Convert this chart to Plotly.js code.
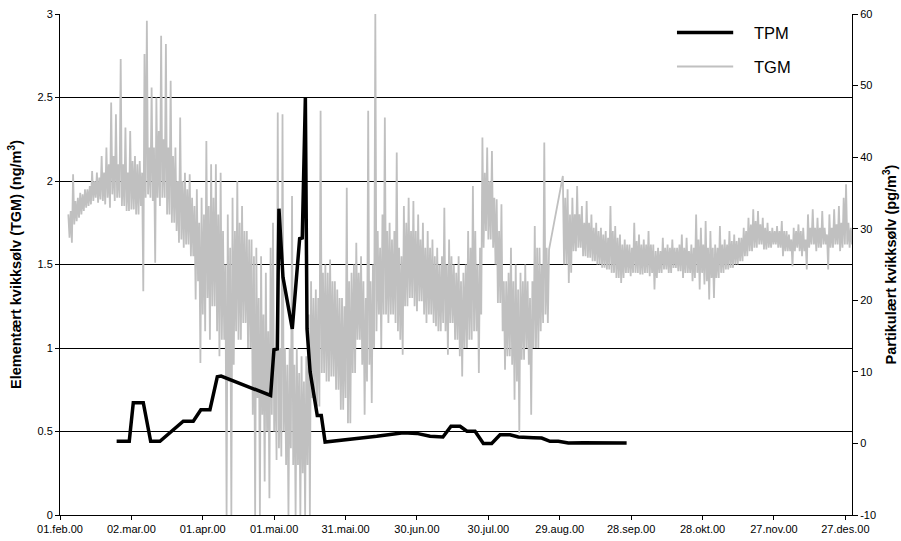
<!DOCTYPE html>
<html>
<head>
<meta charset="utf-8">
<script src="https://cdn.plot.ly/plotly-3.0.1.min.js"></script>
<style>html,body{margin:0;padding:0;background:#fff;}#chart{width:901px;height:541px;}</style>
</head>
<body>
<div id="chart"></div>
<script>
// ---- Data (days counted from 01.feb.00) ----
const tickDays = [0, 30, 60, 90, 120, 150, 180, 210, 240, 270, 300, 330];
const tickLabels = ["01.feb.00", "02.mar.00", "01.apr.00", "01.mai.00", "31.mai.00", "30.jun.00",
                    "30.jul.00", "29.aug.00", "28.sep.00", "28.okt.00", "27.nov.00", "27.des.00"];

// TPM (pg/m3, right axis)
const tpmDays = [23.8, 29.1, 30.8, 35.0, 38.1, 42.0, 51.8, 56.0, 59.2, 63.0, 66.1, 67.7, 88.5, 89.9, 91.3,
                 92.0, 93.7, 97.6, 100.7, 101.8, 103.1, 103.8, 105.1, 106.3, 108.1, 109.8, 111.4, 133.1,
                 144.3, 149.9, 155.5, 160.9, 164.3, 168.1, 171.0, 174.4, 177.9, 181.4, 184.9, 189.1,
                 192.6, 198.9, 202.4, 205.9, 209.4, 213.6, 219.9, 238.1];
const tpmValues = [0.3, 0.3, 5.7, 5.7, 0.3, 0.3, 3.1, 3.1, 4.7, 4.7, 9.3, 9.4, 6.7, 13.1, 13.2,
                   32.8, 23.2, 16.0, 28.6, 28.7, 48.3, 16.0, 10.0, 7.5, 3.9, 3.9, 0.2, 1.0,
                   1.5, 1.4, 1.0, 0.9, 2.4, 2.4, 1.7, 1.7, 0.0, 0.0, 1.2, 1.2,
                   0.9, 0.8, 0.75, 0.3, 0.3, 0.05, 0.1, 0.05];

// TGM (ng/m3, left axis), readings every half day.
// First block starts at day 3.5 (one row = 5 days)
const tgmStep = 0.5;
const tgmStartA = 3.5;
const tgmA = [
  1.80,1.66, 1.82,1.63, 2.04,1.74, 1.88,1.76, 1.90,1.78,
  1.93,1.80, 1.92,1.82, 1.95,1.84, 1.95,1.85, 1.97,1.86,
  2.06,1.88, 2.00,1.90, 2.05,1.87, 2.02,1.89, 2.15,1.88,
  2.05,1.86, 2.20,1.90, 2.10,1.84, 2.47,1.92, 2.15,1.88,
  2.40,1.90, 2.10,1.90, 2.73,1.85, 2.10,1.85, 2.32,1.82,
  2.05,1.82, 2.30,1.83, 2.12,1.83, 2.15,1.80, 2.10,1.80,
  2.12,1.85, 2.05,1.34, 2.76,1.90, 2.96,1.92, 2.20,1.90,
  2.56,1.88, 2.20,1.51, 2.50,1.90, 2.30,1.85, 2.87,1.90,
  2.25,1.90, 2.82,1.80, 2.20,1.80, 2.60,1.75, 2.15,1.75,
  2.20,1.70, 2.00,1.63, 2.38,1.65, 2.00,1.60, 2.05,1.62,
  1.95,1.62, 2.04,1.55, 1.90,1.55, 1.85,1.29, 1.95,1.40,
  1.75,0.91, 1.90,1.20, 1.80,1.10, 2.24,1.30, 1.85,1.05,
  2.10,1.25, 1.90,1.25, 2.10,1.10, 1.80,0.95, 2.05,1.05,
  1.70,1.05, 1.50,0.00, 1.80,0.80, 1.60,0.00, 1.90,0.90,
  1.70,1.10, 2.00,1.05, 1.75,1.05, 1.85,1.15, 1.70,1.15,
  1.70,1.00, 1.65,1.00, 1.65,0.60, 1.55,0.00, 1.60,0.70,
  1.30,0.00, 1.55,0.60, 1.20,0.20, 1.45,0.50, 1.10,0.10,
  1.60,0.60, 1.75,0.50, 1.00,0.33, 2.41,0.40, 1.00,0.35,
  2.40,0.50, 1.00,0.30, 0.90,0.00, 1.00,0.40, 1.91,0.30,
  0.90,0.00, 1.00,0.30, 0.85,0.00, 0.95,0.25, 0.80,0.00,
  0.95,0.30, 1.20,0.00, 1.40,0.70, 1.30,0.70, 1.35,0.65,
  1.30,0.65, 2.42,0.85, 1.45,0.85, 1.50,0.80, 1.45,0.80,
  1.53,0.83, 1.40,0.83, 1.40,0.75, 1.35,0.75, 1.30,0.63,
  1.30,0.63, 1.25,0.70, 1.96,0.55, 1.40,0.55, 1.45,0.85,
  1.50,0.85, 1.63,1.05, 1.45,1.05, 1.55,0.90, 1.40,0.60,
  1.30,0.80, 2.42,0.90, 1.40,0.67, 1.50,1.00, 3.00,1.10,
  1.70,1.20, 1.60,1.00, 1.80,1.20, 2.38,1.20, 1.70,1.15,
  1.75,1.20, 1.65,1.20, 1.70,1.15, 2.17,1.10, 1.60,1.05,
  1.55,0.96, 1.85,1.25, 1.75,1.25, 1.90,1.30, 1.70,1.30,
  1.88,1.25, 1.70,1.22, 1.80,1.28, 1.65,1.28, 1.75,1.20,
  1.60,1.15, 1.70,1.20, 1.60,1.20, 1.65,1.15, 1.55,1.13,
  1.60,1.10, 1.50,1.10, 1.55,1.15, 1.84,1.10, 1.50,0.96,
  1.65,1.15, 1.55,1.15, 1.50,1.05, 1.45,1.05, 1.55,0.95,
  1.40,0.83, 1.45,1.00, 1.50,1.00, 1.70,1.05, 1.60,1.05,
  1.97,1.10, 1.70,1.10, 1.50,0.85, 1.60,1.20, 2.26,1.60,
  2.05,1.70, 2.20,1.65, 2.00,1.65, 2.18,1.60, 1.90,1.50,
  1.89,1.27, 1.70,1.27, 1.86,1.10, 1.40,0.87, 1.40,0.95,
  1.45,0.95, 1.60,0.90, 1.40,0.69, 1.50,0.80, 1.35,0.49,
  1.45,0.93, 1.40,0.93, 1.50,1.00, 1.40,0.90, 1.30,0.60,
  1.40,1.00, 1.73,1.00, 1.60,1.00, 1.60,1.10, 1.50,1.15,
  2.23,1.20, 1.60,1.15, 1.59
];
// Second block after the data gap, starts at day 211.3
const tgmStartB = 211.3;
const tgmB = [
  2.03,1.50, 1.90,1.50, 1.95,1.39, 1.80,1.45, 1.90,1.58,
  1.80,1.58, 1.97,1.60, 1.80,1.60, 1.85,1.55, 1.75,1.55,
  1.88,1.54, 1.75,1.54, 1.80,1.52, 1.72,1.52, 1.75,1.50,
  1.70,1.50, 1.72,1.48, 1.68,1.48, 1.70,1.47, 1.66,1.47,
  1.85,1.45, 1.70,1.45, 1.73,1.42, 1.66,1.42, 1.68,1.39,
  1.62,1.42, 1.65,1.45, 1.62,1.45, 1.62,1.43, 1.60,1.45,
  1.75,1.45, 1.64,1.45, 1.68,1.44, 1.62,1.44, 1.65,1.45,
  1.62,1.45, 1.70,1.43, 1.62,1.45, 1.62,1.35, 1.58,1.42,
  1.60,1.45, 1.58,1.45, 1.66,1.47, 1.60,1.47, 1.62,1.45,
  1.60,1.45, 1.65,1.48, 1.60,1.48, 1.60,1.46, 1.62,1.46,
  1.68,1.42, 1.60,1.45, 1.66,1.45, 1.58,1.45, 1.62,1.40,
  1.60,1.42, 1.80,1.45, 1.65,1.35, 1.72,1.45, 1.62,1.38,
  1.76,1.40, 1.60,1.29, 1.70,1.42, 1.60,1.30, 1.62,1.42,
  1.60,1.42, 1.73,1.45, 1.62,1.45, 1.65,1.47, 1.62,1.47,
  1.70,1.48, 1.64,1.48, 1.68,1.50, 1.64,1.50, 1.66,1.52,
  1.66,1.52, 1.72,1.55, 1.70,1.55, 1.78,1.58, 1.74,1.58,
  1.83,1.60, 1.76,1.60, 1.82,1.62, 1.74,1.62, 1.78,1.59,
  1.72,1.59, 1.75,1.60, 1.70,1.60, 1.72,1.62, 1.70,1.62,
  1.73,1.60, 1.70,1.60, 1.76,1.55, 1.70,1.58, 1.70,1.58,
  1.68,1.58, 1.65,1.49, 1.72,1.58, 1.70,1.60, 1.74,1.58,
  1.70,1.55, 1.72,1.58, 1.65,1.47, 1.80,1.60, 1.72,1.62,
  1.83,1.62, 1.72,1.58, 1.78,1.60, 1.72,1.60, 1.82,1.62,
  1.72,1.62, 1.68,1.47, 1.80,1.60, 1.72,1.60, 1.83,1.62,
  1.74,1.62, 1.85,1.58, 1.75,1.60, 1.90,1.62, 1.98,1.62,
  1.75,1.60, 1.72,1.62, 1.65
];

// ---- helpers ----
const DAY_MS = 86400000;
const T0 = Date.UTC(2000, 1, 1);
function dayToDate(d) {
  return new Date(T0 + Math.round(d * DAY_MS)).toISOString().replace('T', ' ').slice(0, 19);
}

const tgmX = [], tgmY = [];
tgmA.forEach((v, i) => { tgmX.push(dayToDate(tgmStartA + i * tgmStep)); tgmY.push(v); });
tgmB.forEach((v, i) => { tgmX.push(dayToDate(tgmStartB + i * tgmStep)); tgmY.push(v); });

const FONT = 'Liberation Sans, Arial, sans-serif';

const traces = [
  {
    x: tgmX, y: tgmY, type: 'scatter', mode: 'lines', name: 'TGM',
    line: {color: '#c0c0c0', width: 1.8}, yaxis: 'y', showlegend: false
  },
  {
    x: tpmDays.map(dayToDate), y: tpmValues, type: 'scatter', mode: 'lines', name: 'TPM',
    line: {color: '#000000', width: 3.5}, yaxis: 'y2', showlegend: false
  }
];

const layout = {
  width: 901, height: 541,
  margin: {l: 60, r: 49, t: 14, b: 26},
  paper_bgcolor: '#ffffff', plot_bgcolor: '#ffffff',
  font: {family: FONT, size: 11, color: '#000'},
  showlegend: false,
  xaxis: {
    type: 'date',
    range: [dayToDate(0), dayToDate(332.8)],
    tickmode: 'array',
    tickvals: tickDays.map(dayToDate),
    ticktext: tickLabels,
    ticks: 'outside', ticklen: 4, tickcolor: '#000', tickwidth: 1,
    showline: true, linecolor: '#000', linewidth: 1,
    showgrid: false, zeroline: false,
    tickfont: {family: FONT, size: 11, color: '#000'}
  },
  yaxis: {
    range: [0, 3], dtick: 0.5, tick0: 0,
    ticks: 'outside', ticklen: 4, tickcolor: '#000',
    showline: true, linecolor: '#000', linewidth: 1,
    showgrid: true, gridcolor: '#000', gridwidth: 1,
    zeroline: false,
    tickfont: {family: FONT, size: 11, color: '#000'},
    title: {text: '<b>Elementært kvikksølv (TGM) (ng/m<sup>3</sup>)</b>', font: {family: FONT, size: 14.5, color: '#000'}, standoff: 12}
  },
  yaxis2: {
    overlaying: 'y', side: 'right',
    range: [-10, 60],
    tickmode: 'array',
    tickvals: [-10, 0, 10, 20, 30, 40, 50, 60],
    ticktext: ['-10', '0', '10', '20', '30', '40', '50', '60'],
    ticks: 'outside', ticklen: 5, tickcolor: '#000',
    showline: true, linecolor: '#000', linewidth: 1,
    showgrid: false, zeroline: false,
    tickfont: {family: FONT, size: 11, color: '#000'},
    title: {text: '<b>Partikulært kvikksølv (pg/m<sup>3</sup>)</b>', font: {family: FONT, size: 14.5, color: '#000'}, standoff: 10}
  },
  shapes: [
    {type: 'line', xref: 'paper', yref: 'paper', x0: 0.779, x1: 0.850, y0: 0.963, y1: 0.963,
     line: {color: '#000', width: 3.5}},
    {type: 'line', xref: 'paper', yref: 'paper', x0: 0.779, x1: 0.850, y0: 0.895, y1: 0.895,
     line: {color: '#c0c0c0', width: 2}}
  ],
  annotations: [
    {text: 'TPM', xref: 'paper', yref: 'paper', x: 0.874, y: 0.963, xanchor: 'left', yanchor: 'middle',
     showarrow: false, font: {family: FONT, size: 16.5, color: '#000'}},
    {text: 'TGM', xref: 'paper', yref: 'paper', x: 0.874, y: 0.895, xanchor: 'left', yanchor: 'middle',
     showarrow: false, font: {family: FONT, size: 16.5, color: '#000'}}
  ]
};

Plotly.newPlot('chart', traces, layout, {staticPlot: true, displayModeBar: false});
</script>
</body>
</html>
